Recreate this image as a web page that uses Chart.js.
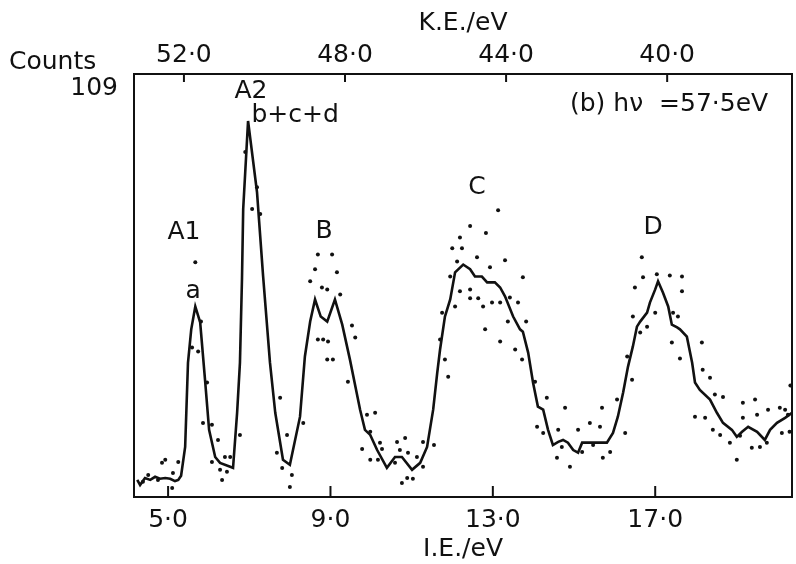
<!DOCTYPE html>
<html>
<head>
<meta charset="utf-8">
<script src="https://cdn.jsdelivr.net/npm/chart.js@4"></script>
<style>
  html, body { margin: 0; padding: 0; background: #fff; }
  #wrap { width: 796px; height: 564px; }
</style>
</head>
<body>
<div id="wrap"><canvas id="spectrum" width="796" height="564"></canvas></div>
<script>
// tick labels on both energy axes
const ieTicks = [5, 9, 13, 17];
const keTicks = [52, 48, 44, 40];
const countsMax = 109;

// smoothed spectrum (I.E. in eV, counts)
const lineIE = [4.24, 4.31, 4.43, 4.56, 4.68, 4.80, 4.93, 5.05, 5.17, 5.25, 5.32, 5.42, 5.49, 5.57, 5.67,
  5.79, 5.91, 6.01, 6.16, 6.28, 6.53, 6.60, 6.70, 6.77, 6.82, 6.85, 6.97, 7.19, 7.34, 7.51, 7.64, 7.83, 8.00,
  8.25, 8.37, 8.50, 8.62, 8.76, 8.92, 9.11, 9.29, 9.48, 9.73, 9.85, 9.98, 10.15, 10.39, 10.59, 10.76, 11.01,
  11.21, 11.38, 11.53, 11.63, 11.70, 11.82, 11.95, 12.07, 12.27, 12.44, 12.56, 12.73, 12.86, 13.05, 13.18,
  13.30, 13.50, 13.67, 13.74, 13.87, 13.99, 14.11, 14.24, 14.36, 14.48, 14.61, 14.73, 14.85, 14.98, 15.10,
  15.20, 15.34, 15.59, 15.81, 15.96, 16.08, 16.21, 16.33, 16.45, 16.55, 16.63, 16.80, 16.87, 17.00, 17.07,
  17.19, 17.32, 17.41, 17.54, 17.61, 17.78, 17.91, 17.98, 18.10, 18.35, 18.52, 18.67, 18.89, 19.01, 19.14,
  19.29, 19.51, 19.70, 19.83, 20.00, 20.20, 20.37];
const lineCounts = [4.4, 3.1, 4.9, 4.4, 5.2, 4.7, 4.9, 4.7, 4.1, 4.4, 5.5, 12.9, 34.6, 43.2, 49.1,
  45.0, 30.2, 17.3, 10.3, 8.8, 7.8, 7.5, 21.7, 34.6, 56.1, 74.2, 96.9, 78.6, 57.0, 34.6, 21.7, 9.6, 8.3,
  20.7, 36.2, 45.2, 50.9, 46.5, 45.2, 50.9, 44.4, 35.4, 22.5, 17.3, 16.0, 12.1, 7.5, 10.3, 10.3, 7.0,
  8.8, 12.9, 22.5, 32.0, 38.0, 46.5, 50.9, 57.9, 59.9, 58.7, 56.8, 56.8, 55.3, 55.3, 54.0,
  51.7, 46.5, 43.2, 42.6, 37.2, 29.5, 23.3, 22.5, 17.3, 13.4, 14.2, 14.7, 14.0, 12.1, 11.4,
  14.0, 14.0, 14.0, 14.0, 16.5, 20.7, 26.9, 33.6, 38.8, 43.9, 45.2, 47.5, 50.1, 53.5, 55.6,
  52.7, 49.1, 44.4, 43.7, 43.2, 41.3, 34.6, 29.5, 27.6, 25.1, 21.7, 19.1, 17.3, 15.5, 16.8,
  18.1, 16.8, 14.7, 17.3, 19.1, 20.4, 21.7];

// raw data points scattered round the curve
const dotIE = [4.38, 4.51, 4.75, 4.85, 4.93, 5.10, 5.12, 5.25, 5.59, 5.67, 5.74, 5.81, 5.96, 5.86, 6.08,
  6.23, 6.08, 6.28, 6.40, 6.53, 6.45, 6.33, 6.77, 6.90, 7.07, 7.19, 7.27, 7.76, 7.93, 7.68, 7.81, 8.05,
  8.00, 8.33, 8.50, 8.62, 8.69, 8.79, 8.92, 9.04, 9.16, 9.24, 8.69, 8.82, 8.94, 8.92, 9.06, 9.53, 9.61,
  9.43, 9.90, 10.10, 9.98, 9.78, 9.98, 10.17, 10.27, 10.64, 10.84, 10.71, 10.91, 10.76, 10.89, 11.03,
  11.13, 11.28, 11.55, 10.59, 10.22, 11.28, 11.70, 11.82, 11.90, 11.75, 12.00, 12.19, 12.44, 12.83,
  13.13, 12.24, 12.61, 13.30, 12.93, 11.95, 12.12, 12.07, 12.19, 12.44, 12.44, 12.64, 12.76, 12.98,
  13.18, 12.81, 13.18, 13.42, 13.62, 13.37, 13.82, 13.74, 13.55, 13.72, 14.04, 14.33, 14.09, 14.24,
  14.78, 14.61, 14.70, 14.58, 14.90, 15.10, 15.39, 15.20, 15.47, 15.64, 15.69, 15.71, 15.89, 16.06,
  16.26, 16.31, 16.43, 16.63, 16.80, 16.45, 17.00, 16.50, 16.67, 16.70, 17.04, 17.36, 17.66, 17.66,
  17.44, 17.56, 17.41, 17.61, 18.15, 18.17, 18.35, 18.47, 18.67, 17.98, 18.23, 18.42, 18.60, 18.84,
  19.01, 19.16, 19.46, 19.16, 19.51, 19.38, 19.58, 19.78, 20.07, 20.20, 20.27, 20.33, 20.31, 20.12,
  19.75, 19.09];
const dotCounts = [3.9, 5.7, 4.4, 8.8, 9.6, 2.3, 6.2, 9.0, 38.5, 60.5, 37.5, 45.2, 29.5, 19.1, 18.6,
  14.7, 9.0, 7.0, 10.3, 10.3, 6.5, 4.4, 16.0, 88.9, 74.2, 79.8, 72.9, 25.6, 16.0, 11.4, 7.5, 5.7,
  2.6, 19.1, 55.6, 58.7, 62.5, 54.0, 53.5, 62.5, 57.9, 52.2, 40.6, 40.6, 40.1, 35.4, 35.4, 44.2, 41.1,
  29.7, 21.2, 21.7, 16.8, 12.4, 9.6, 9.6, 12.4, 14.2, 15.2, 12.1, 11.4, 3.6, 4.9, 4.7,
  10.3, 14.2, 13.4, 8.8, 14.0, 7.8, 40.6, 35.4, 31.0, 47.5, 64.1, 66.9, 69.8, 68.0,
  73.9, 64.1, 61.8, 61.0, 59.2, 56.8, 60.7, 49.1, 53.0, 53.5, 51.2, 51.2, 49.1, 50.1,
  50.1, 43.2, 40.1, 51.4, 50.1, 45.2, 45.2, 56.6, 38.0, 35.4, 29.7, 25.6, 18.1, 16.5,
  23.0, 17.3, 12.9, 10.1, 7.8, 17.3, 19.1, 11.6, 13.4, 18.1, 23.0, 10.1, 11.6, 25.1,
  16.5, 36.2, 30.2, 42.4, 43.9, 46.5, 47.5, 54.0, 61.8, 56.6, 57.4, 57.1, 56.8, 53.0,
  47.5, 46.5, 39.8, 35.7, 39.8, 32.8, 30.7, 26.4, 25.8, 20.7, 20.4, 17.3, 16.0, 14.0,
  9.6, 24.3, 25.1, 20.4, 21.2, 12.7, 12.9, 22.5, 23.0, 22.5, 21.2, 28.7, 16.8, 16.5,
  14.0, 15.8];

// peak annotations
const peakNames = ['A1', 'a', 'A2', 'b+c+d', 'B', 'C', 'D'];
const peakIE = [5.39, 5.62, 7.04, 8.13, 8.84, 12.61, 16.95];
const peakCounts = [68.2, 53.0, 104.4, 98.4, 68.5, 79.8, 69.5];

const ink = '#111';
const font = "'DejaVu Sans', sans-serif";
const fmt = v => v.toFixed(1).replace('.', '\u00b7');

const lettering = {
  id: 'lettering',
  afterDraw(chart) {
    const { ctx, chartArea: a, scales } = chart;
    ctx.save();
    ctx.strokeStyle = ink;
    ctx.fillStyle = ink;
    ctx.lineWidth = 2;
    ctx.strokeRect(a.left, a.top, a.right - a.left, a.bottom - a.top);

    // inward tick marks
    ieTicks.forEach(v => {
      const x = scales.x.getPixelForValue(v);
      ctx.beginPath(); ctx.moveTo(x, a.bottom); ctx.lineTo(x, a.bottom - 11); ctx.stroke();
    });
    keTicks.forEach(v => {
      const x = scales.ke.getPixelForValue(v);
      ctx.beginPath(); ctx.moveTo(x, a.top); ctx.lineTo(x, a.top + 8); ctx.stroke();
    });

    ctx.font = '25px ' + font;
    ctx.textBaseline = 'middle';
    ctx.textAlign = 'center';
    peakNames.forEach((t, i) => {
      ctx.fillText(t, scales.x.getPixelForValue(peakIE[i]), scales.y.getPixelForValue(peakCounts[i]));
    });

    ctx.textAlign = 'left';
    ctx.fillText('(b) h\u03bd  =57\u00b75eV', a.left + 436, a.top + 30);
    ctx.fillText('Counts', 9, a.top - 12);
    ctx.textAlign = 'right';
    ctx.fillText(String(countsMax), a.left - 16, a.top + 14);
    ctx.restore();
  }
};

new Chart(document.getElementById('spectrum'), {
  data: {
    datasets: [{
      type: 'line',
      data: lineIE.map((x, i) => ({ x, y: lineCounts[i] })),
      borderColor: ink,
      borderWidth: 2.6,
      pointRadius: 0,
      tension: 0
    }, {
      type: 'scatter',
      data: dotIE.map((x, i) => ({ x, y: dotCounts[i] })),
      backgroundColor: ink,
      borderWidth: 0,
      pointRadius: 2
    }]
  },
  options: {
    responsive: false,
    animation: false,
    layout: { padding: { left: 134, right: 3, top: 0, bottom: 0 } },
    plugins: { legend: { display: false }, tooltip: { enabled: false } },
    scales: {
      x: {
        type: 'linear', position: 'bottom', min: 4.16, max: 20.37,
        afterBuildTicks: s => { s.ticks = ieTicks.map(value => ({ value })); },
        afterFit: s => { s.height = 67; },
        grid: { display: false, drawTicks: false },
        border: { display: false },
        ticks: { color: ink, font: { family: font, size: 25 }, padding: 8, callback: v => fmt(v), maxRotation: 0 },
        title: { display: true, text: 'I.E./eV', color: ink, font: { family: font, size: 25 }, padding: 0 }
      },
      ke: {
        type: 'linear', position: 'top', reverse: true, min: 36.90, max: 53.24,
        afterBuildTicks: s => { s.ticks = keTicks.map(value => ({ value })); },
        afterFit: s => { s.height = 74; },
        grid: { display: false, drawTicks: false },
        border: { display: false },
        ticks: { color: ink, font: { family: font, size: 25 }, padding: 4, callback: v => fmt(v), maxRotation: 0 },
        title: { display: true, text: 'K.E./eV', color: ink, font: { family: font, size: 25 }, padding: { top: 8, bottom: 0 } }
      },
      y: {
        type: 'linear', display: false, min: 0, max: countsMax
      }
    }
  },
  plugins: [lettering]
});
</script>
</body>
</html>
